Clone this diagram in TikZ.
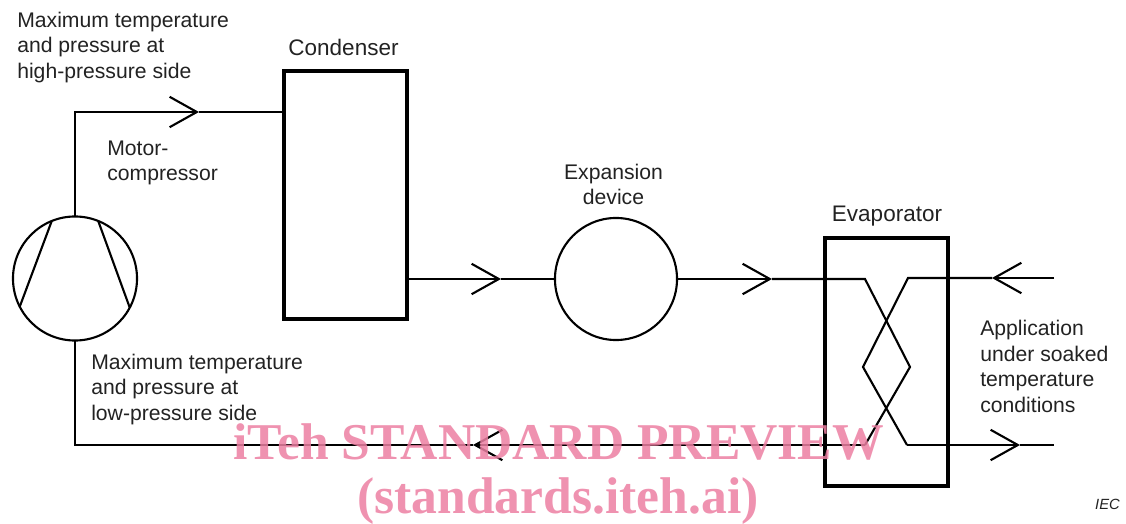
\documentclass[tikz,border=0pt]{standalone}
\usepackage{fontspec}
\setmainfont{Liberation Sans}
\newfontfamily\markfont{Liberation Serif}
\usetikzlibrary{arrows.meta}

\definecolor{inkgray}{HTML}{222222}
\definecolor{markpink}{HTML}{EC7FA2}

\tikzset{
  unit/.style={draw=black, line width=2.8pt, inner sep=0, outer sep=0, minimum width=3.075cm, minimum height=6.2cm},
  ring/.style={draw=black, line width=1.5pt, circle, inner sep=0, outer sep=0},
  flow/.style={draw=black, line width=1.5pt, line join=miter},
  barb/.style={flow, -{Straight Barb[length=0.68cm, width=0.76cm, line width=1.5pt]}},
  tag/.style={text=inkgray, inner sep=0, align=left, font=\fontsize{15.05}{18.2}\selectfont},
  bigtag/.style={tag, font=\fontsize{16}{18.2}\selectfont},
  stamp/.style={text=markpink, text opacity=0.85, inner sep=0, font=\markfont\bfseries\fontsize{36.7}{40}\selectfont}
}

\begin{document}
\begin{tikzpicture}[x=0.025cm, y=-0.025cm]
\useasboundingbox (0,0) rectangle (1126,524);

\node (comp) at (75,278.5) [ring, minimum size=3.1cm]{};
\node (cond) at (345.5,195) [unit]{};
\node (exp) at (616,279) [ring, minimum size=3.05cm]{};
\node (evap) at (886.5,362) [unit]{};

\draw [flow] (comp.112) -- (comp.207);
\draw [flow] (comp.68) -- (comp.-28);

\coordinate (T-1) at (199,112);
\coordinate (T-2) at (501,279);
\coordinate (T-3) at (772,279);
\coordinate (T-4) at (473,445);
\coordinate (T-5) at (992,278);
\coordinate (T-6) at (1020,445);

\coordinate (X-1) at (865,279);
\coordinate (X-2) at (910,367);
\coordinate (X-3) at (865,445);
\coordinate (Y-1) at (908,278);
\coordinate (Y-2) at (863,367);
\coordinate (Y-3) at (907,445);
\coordinate (E-1) at (1054,278);
\coordinate (E-2) at (1054,445);

% high-pressure side
\draw [barb] (comp.north) |- (T-1);
\draw [flow] (T-1) -- (cond.west |- T-1);

\draw [barb] (cond.east |- T-2) -- (T-2);
\draw [flow] (T-2) -- (exp.west);

\draw [barb] (exp.east) -- (T-3);
\draw [flow] (T-3) -- (X-1) -- (X-2) -- (X-3);

% low-pressure side
\draw [barb] (X-3) -- (T-4);
\draw [flow] (T-4) -| (comp.south);

% application loop
\draw [barb] (E-1) -- (T-5);
\draw [flow] (T-5) -- (Y-1) -- (Y-2) -- (Y-3);
\draw [barb] (Y-3) -- (T-6);
\draw [flow] (T-6) -- (E-2);

\node (L-1) at (17,47.5) [tag, anchor=west]{Maximum temperature\\and pressure at\\high-pressure side};
\node (L-2) at (343.5,47) [bigtag]{Condenser};
\node (L-3) at (107,163) [tag, anchor=west]{Motor-\\compressor};
\node (L-4) at (613.5,184.5) [tag, align=center]{Expansion\\device};
\node (L-5) at (887,216) [bigtag]{Evaporator};
\node (L-6) at (91,389.5) [tag, anchor=west]{Maximum temperature\\and pressure at\\low-pressure side};
\node (L-7) at (980,366.5) [tag, anchor=west]{Application\\under soaked\\temperature\\conditions};
\node (L-8) at (1107.5,504) [tag, font=\fontsize{10.5}{12}\selectfont\itshape]{IEC};

\node (M-1) at (558.5,442) [stamp]{iTeh STANDARD PREVIEW};
\node (M-2) at (558,501) [stamp]{(standards.iteh.ai)};

\end{tikzpicture}
\end{document}
